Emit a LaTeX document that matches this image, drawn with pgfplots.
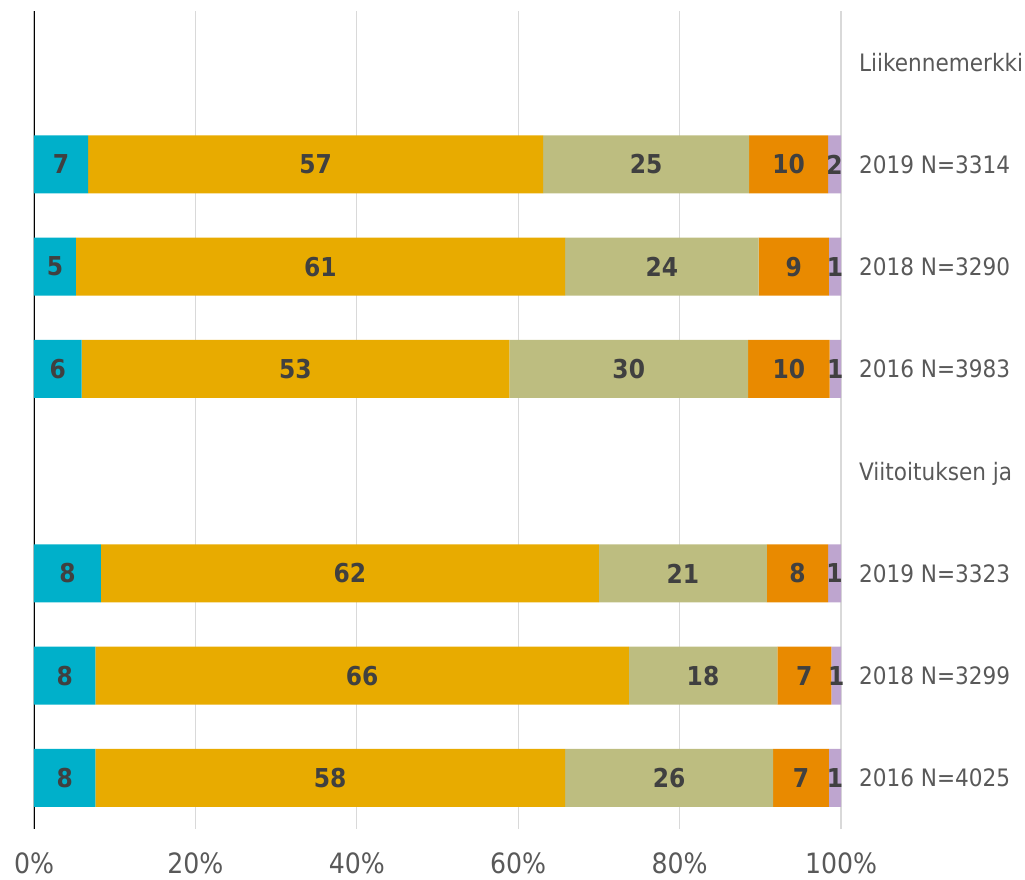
\documentclass[border=0pt]{standalone}
\usepackage{fontspec}
\setmainfont{DejaVu Sans Condensed}
\usepackage{pgfplots}
\usepackage{pgfplotstable}
\pgfplotsset{compat=1.18}

\definecolor{cteal}{HTML}{00B0CA}
\definecolor{cgold}{HTML}{E8AB00}
\definecolor{ckhaki}{HTML}{BDBD80}
\definecolor{corange}{HTML}{E98A00}
\definecolor{clav}{HTML}{BEA5CF}
\definecolor{labgray}{HTML}{404040}
\definecolor{txtgray}{HTML}{595959}
\definecolor{gridgray}{HTML}{D9D9D9}

% y: 7,6,5 = Liikennemerkki rows; 3,2,1 = Viitoitus rows
\pgfplotstableread{
y w lab
7 6.7 7
6 5.2 5
5 5.9 6
3 8.3 8
2 7.6 8
1 7.6 8
}\tA
\pgfplotstableread{
y w lab
7 56.4 57
6 60.6 61
5 53.0 53
3 61.7 62
2 66.1 66
1 58.2 58
}\tB
\pgfplotstableread{
y w lab
7 25.5 25
6 24.0 24
5 29.6 30
3 20.8 21
2 18.4 18
1 25.8 26
}\tC
\pgfplotstableread{
y w lab
7 9.8 10
6 8.7 9
5 10.1 10
3 7.6 8
2 6.7 7
1 6.9 7
}\tD
\pgfplotstableread{
y w lab
7 1.6 2
6 1.5 1
5 1.4 1
3 1.6 1
2 1.2 1
1 1.5 1
}\tE

\begin{document}
\begin{tikzpicture}
\begin{axis}[
    scale only axis,
    width=807pt, height=818pt,
    xbar stacked,
    bar width=58pt,
    xmin=0, xmax=100,
    ymin=0.5, ymax=8.5,
    axis line style={draw=none},
    xtick={0,20,40,60,80,100},
    xticklabel={\pgfmathprintnumber{\tick}\%},
    /pgf/number format/assume math mode=true,
    xmajorgrids,
    grid style={gridgray, line width=1.2pt},
    major tick length=0pt,
    xticklabel style={font=\fontsize{28}{32}\selectfont, text=txtgray, yshift=-20pt},
    ytick={1,2,3,4,5,6,7,8},
    yticklabels={2016 N=4025, 2018 N=3299, 2019 N=3323, Viitoituksen ja,
                 2016 N=3983, 2018 N=3290, 2019 N=3314, Liikennemerkki},
    yticklabel pos=right,
    yticklabel style={font=\fontsize{24}{30}\selectfont, text=txtgray,
        anchor=base west, inner sep=0pt, xshift=18pt, yshift=-9pt},
    point meta=explicit symbolic,
    nodes near coords,
    every node near coord/.append style={
        font=\fontsize{26}{30}\bfseries\selectfont, text=labgray,
        anchor=center, inner sep=0pt},
]
\addplot[fill=cteal, draw=none] table[x=w, y=y, meta=lab] {\tA};
\addplot[fill=cgold, draw=none] table[x=w, y=y, meta=lab] {\tB};
\addplot[fill=ckhaki, draw=none] table[x=w, y=y, meta=lab] {\tC};
\addplot[fill=corange, draw=none] table[x=w, y=y, meta=lab] {\tD};
\addplot[fill=clav, draw=none] table[x=w, y=y, meta=lab] {\tE};
\draw[black, line width=1.5pt] (axis cs:0,0.5) -- (axis cs:0,8.5);
\end{axis}
\pgfresetboundingbox
\path[use as bounding box] ([shift={(-34pt,11pt)}]current axis.north west) rectangle ++(1025pt,-879pt);
\end{tikzpicture}
\end{document}
